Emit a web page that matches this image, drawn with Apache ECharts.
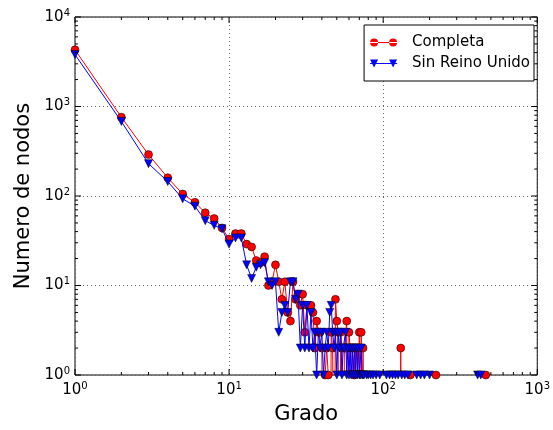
<!DOCTYPE html>
<html>
<head>
<meta charset="utf-8">
<script src="https://cdn.jsdelivr.net/npm/echarts@6/dist/echarts.min.js"></script>
<style>
  html, body { margin: 0; padding: 0; background: #fff; }
  #chart { width: 553px; height: 430px; }
</style>
</head>
<body>
<div id="chart"></div>
<script>
// grado (degree) -> numero de nodos; 0 = no nodes of that degree (line drops out of the plot)
var gradoCompleta = [1, 2, 3, 4, 5, 6, 7, 8, 9, 10, 11, 12, 13, 14, 15, 16, 17, 18, 19, 20,
  21, 22, 23, 24, 25, 26, 27, 28, 29, 30, 31, 32, 33, 34, 35, 36, 37, 38, 39, 40,
  41, 42, 43, 44, 45, 46, 47, 48, 49, 50, 51, 52, 53, 54, 55, 56, 57, 58, 59, 60,
  61, 62, 63, 64, 65, 66, 67, 68, 69, 70, 71, 72, 73, 74, 75,
  129, 130, 131, 149, 150, 151, 219, 220, 221, 462, 463];
var nodosCompleta = [4300, 760, 290, 160, 105, 85, 65, 56, 44, 33, 38, 38, 29, 27, 19, 18, 21, 10, 11, 17,
  11, 7, 11, 5, 4, 11, 7, 8, 6, 8, 3, 6, 6, 6, 5, 2, 4, 3, 3, 2,
  0, 1, 2, 1, 0, 3, 2, 0, 7, 4, 3, 0, 3, 2, 0, 2, 2, 4, 0, 3,
  2, 0, 2, 2, 1, 2, 0, 2, 0, 3, 0, 3, 0, 2, 0,
  0, 2, 0, 0, 1, 0, 0, 1, 0, 0, 1];

var gradoSin = [1, 2, 3, 4, 5, 6, 7, 8, 9, 10, 11, 12, 13, 14, 15, 16, 17, 18, 19, 20,
  21, 22, 23, 24, 25, 26, 27, 28, 29, 30, 31, 32, 33, 34, 35, 36, 37, 38, 39, 40,
  41, 42, 43, 44, 45, 46, 47, 48, 49, 50, 51, 52, 53, 54, 55, 56, 57, 58, 59, 60,
  61, 62, 63, 64, 65, 66, 67, 68, 69, 70, 71, 72, 73, 74, 75,
  78, 80, 83, 86, 90, 95, 96, 104, 105, 110, 115, 120, 125, 132, 138, 145, 146,
  164, 165, 175, 185, 200, 201, 409, 410, 430];
var nodosSin = [3800, 680, 230, 145, 93, 77, 53, 47, 43, 29, 34, 34, 17, 12, 16, 17, 18, 11, 10, 11,
  3, 5, 6, 5, 11, 11, 7, 8, 2, 6, 2, 6, 2, 5, 2, 3, 1, 3, 2, 3,
  1, 2, 3, 2, 5, 6, 3, 2, 3, 1, 3, 2, 3, 1, 2, 2, 3, 1, 2, 1,
  2, 1, 2, 1, 2, 1, 2, 1, 2, 1, 1, 2, 1, 1, 1,
  1, 1, 1, 1, 1, 1, 0, 0, 1, 1, 1, 1, 1, 1, 1, 1, 0,
  0, 1, 1, 1, 1, 0, 0, 1, 1];

var ticksMayoresX = [1, 10, 100, 1000];
var ticksMenoresX = [2, 3, 4, 5, 6, 7, 8, 9, 20, 30, 40, 50, 60, 70, 80, 90, 200, 300, 400, 500, 600, 700, 800, 900];
var ticksMayoresY = [1, 10, 100, 1000, 10000];
var ticksMenoresY = [2, 3, 4, 5, 6, 7, 8, 9, 20, 30, 40, 50, 60, 70, 80, 90, 200, 300, 400, 500, 600, 700, 800, 900,
  2000, 3000, 4000, 5000, 6000, 7000, 8000, 9000];

var FONT = 'DejaVu Sans';

function pares(xs, ys) {
  var out = [];
  for (var i = 0; i < xs.length; i++) {
    // log axis cannot show 0: push it far below the axis, the grid clip cuts the line
    out.push([xs[i], ys[i] > 0 ? ys[i] : 1e-3]);
  }
  return out;
}

function superindice(v) {
  var e = Math.round(Math.log(v) / Math.LN10);
  return '{b|10}{s|' + e + '}';
}
var richLabel = {
  b: { fontFamily: FONT, fontSize: 15, color: '#000', lineHeight: 18 },
  s: { fontFamily: FONT, fontSize: 10, color: '#000', verticalAlign: 'top', lineHeight: 10 }
};

function tickItem(eje) {
  return function (params, api) {
    var v = api.value(0), len = api.value(1);
    var a, b;
    if (eje === 'x') {
      a = api.coord([v, 1]); b = api.coord([v, 10000]);
      return { type: 'group', children: [
        { type: 'line', shape: { x1: a[0], y1: a[1], x2: a[0], y2: a[1] - len }, style: { stroke: '#000', lineWidth: 1 } },
        { type: 'line', shape: { x1: b[0], y1: b[1], x2: b[0], y2: b[1] + len }, style: { stroke: '#000', lineWidth: 1 } }
      ] };
    }
    a = api.coord([1, v]); b = api.coord([1000, v]);
    return { type: 'group', children: [
      { type: 'line', shape: { x1: a[0], y1: a[1], x2: a[0] + len, y2: a[1] }, style: { stroke: '#000', lineWidth: 1 } },
      { type: 'line', shape: { x1: b[0], y1: b[1], x2: b[0] - len, y2: b[1] }, style: { stroke: '#000', lineWidth: 1 } }
    ] };
  };
}

var chart = echarts.init(document.getElementById('chart'), null, { renderer: 'canvas' });

var option = {
  animation: false,
  backgroundColor: '#fff',
  grid: { left: 75, right: 11, top: 17, bottom: 50, show: true, borderColor: '#000', borderWidth: 1, backgroundColor: 'transparent' },
  legend: {
    orient: 'vertical',
    right: 19,
    top: 25,
    padding: [10, 4, 10, 6],
    itemGap: 6,
    itemWidth: 27,
    itemHeight: 9,
    backgroundColor: '#fff',
    borderColor: '#000',
    borderWidth: 1,
    borderRadius: 0,
    itemStyle: { borderWidth: 0 },
    textStyle: { fontFamily: FONT, fontSize: 15, color: '#000', padding: [0, 0, 0, 10] },
    data: [
      { name: 'Completa', icon: 'path://M0,4.5L27,4.5L27,5.5L0,5.5Z M0,5a4,4 0 1,0 8,0a4,4 0 1,0 -8,0Z M19,5a4,4 0 1,0 8,0a4,4 0 1,0 -8,0Z' },
      { name: 'Sin Reino Unido', icon: 'path://M0,4.5L27,4.5L27,5.5L0,5.5Z M0,1L8,1L4,9Z M19,1L27,1L23,9Z' }
    ]
  },
  xAxis: {
    type: 'log',
    logBase: 10,
    min: 1,
    max: 1000,
    name: 'Grado',
    nameLocation: 'middle',
    nameGap: 29,
    nameTextStyle: { fontFamily: FONT, fontSize: 21, color: '#000' },
    axisLine: { show: false },
    axisTick: { show: false },
    axisLabel: { formatter: superindice, rich: richLabel, margin: 6 },
    splitLine: { show: true, lineStyle: { color: '#666', type: [1, 3], width: 1 } }
  },
  yAxis: {
    type: 'log',
    logBase: 10,
    min: 1,
    max: 10000,
    name: 'Numero de nodos',
    nameLocation: 'middle',
    nameGap: 37,
    nameTextStyle: { fontFamily: FONT, fontSize: 21, color: '#000' },
    axisLine: { show: false },
    axisTick: { show: false },
    axisLabel: { formatter: superindice, rich: richLabel, margin: 5 },
    splitLine: { show: true, lineStyle: { color: '#666', type: [1, 3], width: 1 } }
  },
  series: [
    {
      type: 'custom', name: 'ticksX', silent: true, clip: false, z: 5,
      renderItem: tickItem('x'),
      data: ticksMayoresX.map(function (v) { return [v, 6]; }).concat(ticksMenoresX.map(function (v) { return [v, 3]; }))
    },
    {
      type: 'custom', name: 'ticksY', silent: true, clip: false, z: 5,
      renderItem: tickItem('y'),
      data: ticksMayoresY.map(function (v) { return [v, 6]; }).concat(ticksMenoresY.map(function (v) { return [v, 3]; }))
    },
    {
      name: 'Completa',
      type: 'line',
      clip: true,
      data: pares(gradoCompleta, nodosCompleta),
      symbol: 'circle',
      symbolSize: 8,
      showAllSymbol: true,
      color: '#ff0000',
      lineStyle: { color: '#ff0000', width: 1 },
      itemStyle: { color: '#ff0000', borderColor: '#000', borderWidth: 0.5 },
      z: 3
    },
    {
      name: 'Sin Reino Unido',
      type: 'line',
      clip: true,
      data: pares(gradoSin, nodosSin),
      symbol: 'triangle',
      symbolRotate: 180,
      symbolSize: [8, 8],
      showAllSymbol: true,
      color: '#0000ff',
      lineStyle: { color: '#0000ff', width: 1 },
      itemStyle: { color: '#0000ff', borderColor: '#000', borderWidth: 0.5 },
      z: 4
    }
  ]
};

chart.setOption(option);
</script>
</body>
</html>
